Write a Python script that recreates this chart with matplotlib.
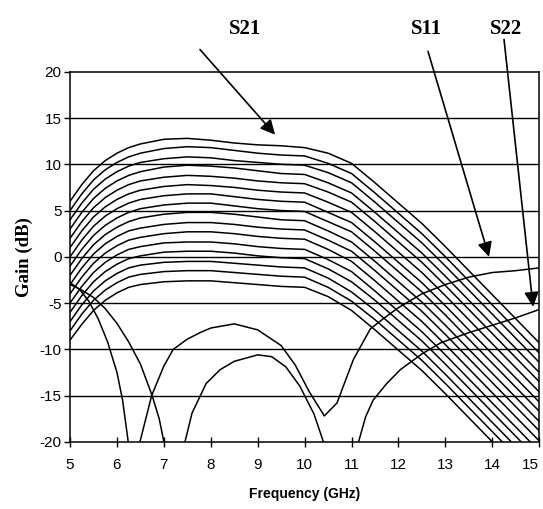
import numpy as np
import matplotlib
matplotlib.use("Agg")
import matplotlib.pyplot as plt

plt.rcParams['axes.unicode_minus'] = False

# S21 gain family, one list per bias step
freq = [5, 5.25, 5.5, 5.75, 6, 6.25, 6.5, 7, 7.5, 8, 8.5, 9, 9.5, 10,
        10.5, 11, 11.5, 12, 12.5, 13, 13.5, 14, 14.5, 15]

s21_curves = [
    [6.0, 7.8, 9.3, 10.4, 11.2, 11.8, 12.2, 12.7, 12.8, 12.6, 12.3, 12.1, 12.0, 11.8,
     11.2, 10.1, 8.0, 5.8, 3.6, 1.1, -1.5, -4.1, -6.7, -9.3],
    [5.0, 6.8, 8.3, 9.4, 10.2, 10.8, 11.2, 11.7, 11.9, 11.8, 11.5, 11.2, 11.0, 10.9,
     10.1, 9.0, 6.9, 4.7, 2.5, 0.0, -2.6, -5.2, -7.8, -10.4],
    [4.0, 5.8, 7.3, 8.4, 9.2, 9.8, 10.2, 10.6, 10.8, 10.7, 10.4, 10.2, 10.0, 9.9,
     9.1, 8.0, 5.9, 3.7, 1.5, -1.0, -3.6, -6.2, -8.8, -11.4],
    [3.0, 4.8, 6.3, 7.4, 8.2, 8.8, 9.2, 9.7, 9.9, 9.8, 9.6, 9.3, 9.0, 8.9,
     8.0, 6.9, 4.8, 2.6, 0.4, -2.1, -4.7, -7.3, -9.9, -12.5],
    [2.0, 3.8, 5.3, 6.4, 7.2, 7.8, 8.2, 8.6, 8.8, 8.7, 8.5, 8.2, 8.0, 7.9,
     7.0, 5.9, 3.8, 1.6, -0.6, -3.1, -5.7, -8.3, -10.9, -13.5],
    [1.0, 2.8, 4.3, 5.4, 6.2, 6.8, 7.2, 7.6, 7.8, 7.7, 7.5, 7.2, 7.0, 6.9,
     5.9, 4.8, 2.7, 0.5, -1.7, -4.2, -6.8, -9.4, -12.0, -14.6],
    [0.0, 1.8, 3.3, 4.4, 5.2, 5.8, 6.2, 6.6, 6.8, 6.8, 6.5, 6.2, 6.0, 5.9,
     4.8, 3.7, 1.6, -0.6, -2.8, -5.3, -7.9, -10.5, -13.1, -15.7],
    [-1.0, 0.8, 2.3, 3.4, 4.2, 4.8, 5.2, 5.6, 5.8, 5.8, 5.5, 5.2, 5.0, 4.9,
     3.8, 2.7, 0.6, -1.6, -3.8, -6.3, -8.9, -11.5, -14.1, -16.7],
    [-2.0, -0.2, 1.3, 2.4, 3.2, 3.8, 4.2, 4.6, 4.8, 4.8, 4.6, 4.3, 4.0, 3.9,
     2.8, 1.6, -0.5, -2.7, -4.9, -7.4, -10.0, -12.6, -15.2, -17.8],
    [-3.0, -1.2, 0.3, 1.4, 2.2, 2.8, 3.1, 3.5, 3.7, 3.7, 3.5, 3.2, 3.0, 2.9,
     1.8, 0.6, -1.5, -3.7, -5.9, -8.4, -11.0, -13.6, -16.2, -18.8],
    [-4.0, -2.2, -0.7, 0.4, 1.2, 1.8, 2.1, 2.5, 2.7, 2.7, 2.5, 2.2, 2.0, 1.9,
     0.8, -0.5, -2.6, -4.8, -7.0, -9.5, -12.1, -14.7, -17.3, -19.9],
    [-5.0, -3.2, -1.7, -0.6, 0.2, 0.8, 1.1, 1.5, 1.6, 1.6, 1.4, 1.1, 0.9, 0.8,
     -0.3, -1.6, -3.7, -5.9, -8.1, -10.6, -13.2, -15.8, -18.4, -21.0],
    [-6.0, -4.2, -2.7, -1.6, -0.8, -0.2, 0.1, 0.5, 0.6, 0.6, 0.4, 0.1, -0.1, -0.2,
     -1.3, -2.7, -4.7, -6.9, -9.1, -11.6, -14.2, -16.8, -19.4, -22.0],
    [-7.0, -5.2, -3.7, -2.6, -1.8, -1.2, -0.9, -0.6, -0.5, -0.5, -0.7, -0.9, -1.1, -1.2,
     -2.3, -3.8, -5.8, -8.0, -10.2, -12.7, -15.3, -17.9, -20.5, -23.1],
    [-8.0, -6.2, -4.7, -3.6, -2.8, -2.2, -1.9, -1.6, -1.5, -1.5, -1.7, -1.9, -2.1, -2.2,
     -3.3, -4.8, -6.8, -9.0, -11.2, -13.7, -16.3, -18.9, -21.5, -24.1],
    [-9.0, -7.3, -5.8, -4.7, -3.9, -3.3, -3.0, -2.7, -2.6, -2.6, -2.8, -3.0, -3.2, -3.3,
     -4.3, -5.8, -7.9, -10.1, -12.3, -14.8, -17.4, -20.0, -22.6, -25.2],
]

# return losses, nan marks where the trace drops out below -20 dB
s11_freq = [5, 5.2, 5.4, 5.6, 5.8, 6.0, 6.12, 6.24, np.nan,
            6.49, 6.74, 7.0, 7.2, 7.5, 7.77, 8.0, 8.5, 9.0, 9.5, 9.8, 10.1, 10.42,
            10.69, 11.04, 11.4, 11.7, 12.0, 12.5, 13.0, 13.5, 14.0, 14.5, 15.0]
s11_gain = [-2.8, -3.5, -4.8, -6.7, -9.2, -12.5, -15.5, -20.0, np.nan,
            -20.0, -15.0, -11.8, -10.0, -8.9, -8.2, -7.7, -7.25, -7.9, -9.6, -11.7, -14.6, -17.2,
            -15.8, -11.1, -7.8, -6.6, -5.5, -4.0, -3.0, -2.2, -1.7, -1.5, -1.2]

s22_freq = [5, 5.25, 5.5, 5.75, 6.0, 6.25, 6.5, 6.75, 6.9, 7.0, np.nan,
            7.45, 7.6, 7.9, 8.2, 8.5, 9.0, 9.3, 9.6, 9.9, 10.2, 10.4, np.nan,
            11.15, 11.3, 11.46, 11.75, 12.04, 12.5, 12.9, 13.5, 14.0, 14.5, 15.0]
s22_gain = [-3.0, -3.6, -4.4, -5.6, -7.2, -9.2, -11.6, -15.0, -17.5, -20.0, np.nan,
            -20.0, -16.9, -13.7, -12.2, -11.3, -10.6, -10.8, -11.9, -14.0, -17.0, -20.0, np.nan,
            -20.0, -17.3, -15.5, -13.7, -12.2, -10.5, -9.3, -8.2, -7.4, -6.6, -5.7]

x_ticks = [5, 6, 7, 8, 9, 10, 11, 12, 13, 14, 15]
y_ticks = [-20, -15, -10, -5, 0, 5, 10, 15, 20]

fig = plt.figure(figsize=(5.43, 5.09), dpi=100, facecolor='white')
ax = fig.add_axes([0.129, 0.132, 0.864, 0.727])

for row in s21_curves:
    ax.plot(freq, row, color='black', lw=1.1)
ax.plot(s11_freq, s11_gain, color='black', lw=1.1)
ax.plot(s22_freq, s22_gain, color='black', lw=1.1)

for y in y_ticks[1:-1]:
    ax.axhline(y, color='black', lw=1.0, zorder=0)

ax.set_xlim(5, 15)
ax.set_ylim(-20, 20)
ax.set_xticks(x_ticks)
ax.set_yticks(y_ticks)
ax.tick_params(axis='x', direction='inout', length=7, width=1,
               labelsize=11, pad=8)
ax.tick_params(axis='y', direction='out', length=4, width=1,
               labelsize=11, pad=2)
for lbl in ax.get_xticklabels() + ax.get_yticklabels():
    lbl.set_fontfamily('Liberation Sans')
# last frequency label sits against the right edge, as in the scan
ax.get_xticklabels()[-1].set_horizontalalignment('right')
for sp in ax.spines.values():
    sp.set_linewidth(1.1)

ax.set_xlabel('Frequency (GHz)', fontfamily='Liberation Sans',
              fontweight='bold', fontsize=10, labelpad=11)
ax.set_ylabel('Gain (dB)', fontfamily='Liberation Serif',
              fontweight='bold', fontsize=13.5, labelpad=5)

arrow = dict(arrowstyle='-|>', color='black', lw=1.2, mutation_scale=22,
             shrinkA=0, shrinkB=0)
label_font = dict(fontfamily='Liberation Serif', fontweight='bold',
                  fontsize=15, ha='center', va='center')

ax.text(8.73, 24.6, 'S21', **label_font)
ax.annotate('', xy=(9.37, 13.2), xytext=(7.77, 22.4),
            arrowprops=arrow, annotation_clip=False)
ax.text(12.6, 24.6, 'S11', **label_font)
ax.annotate('', xy=(13.93, 0.0), xytext=(12.63, 22.2),
            arrowprops=arrow, annotation_clip=False)
ax.text(14.3, 24.6, 'S22', **label_font)
ax.annotate('', xy=(14.87, -5.4), xytext=(14.25, 23.5),
            arrowprops=arrow, annotation_clip=False)

fig.savefig('out.png', dpi=100)
